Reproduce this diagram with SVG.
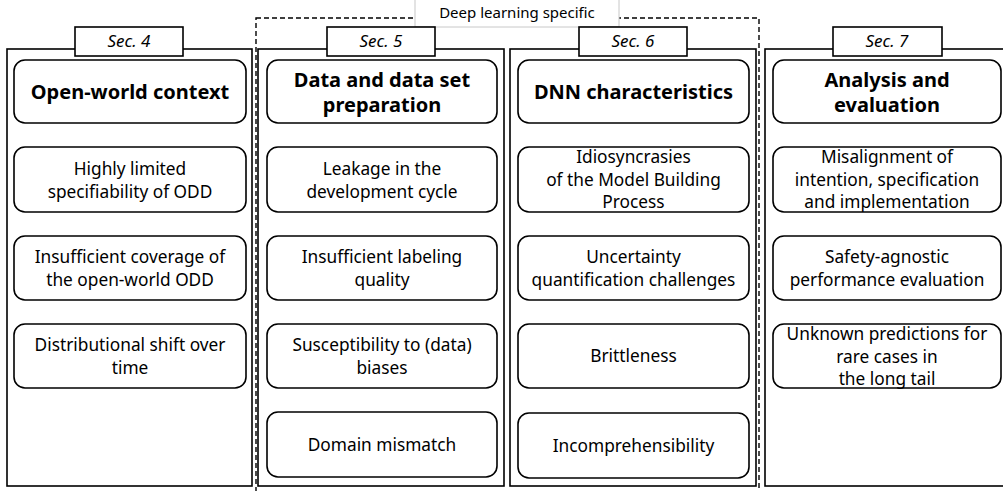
<svg xmlns="http://www.w3.org/2000/svg" width="1003" height="491" viewBox="0 0 1003 491">
<style>
.col{fill:#fff;stroke:#000;stroke-width:1.6}
.node{fill:#fff;stroke:#000;stroke-width:1.6}
.sec{fill:#fff;stroke:#000;stroke-width:1.6}
.t{font-family:"Noto Sans",sans-serif;font-size:17.3px;text-anchor:middle;fill:#000}
.h{font-family:"Noto Sans",sans-serif;font-size:20px;font-weight:bold;text-anchor:middle;fill:#000}
.s{font-family:"Noto Sans",sans-serif;font-size:17px;font-style:italic;text-anchor:middle;fill:#000}
.dl{font-family:"Noto Sans",sans-serif;font-size:15px;text-anchor:middle;fill:#000}
</style>
<rect x="0" y="0" width="1003" height="491" fill="#fff"/>
<g id="deep-learning">
<rect x="256" y="18" width="503" height="490" fill="none" stroke="#000" stroke-width="1.4" stroke-dasharray="5,3"/>
<rect x="415" y="-2" width="204" height="29" fill="#fff" stroke="#c8c8c8" stroke-width="1"/>
<text class="dl" x="517" y="18">Deep learning specific</text>
</g>
<g id="col4">
<rect class="col" x="7" y="49" width="245" height="437"/>
<rect class="sec" x="75" y="27" width="108" height="29"/>
<text class="s" x="129" y="47">Sec. 4</text>
</g>
<g id="col5">
<rect class="col" x="258" y="49" width="246" height="437"/>
<rect class="sec" x="327" y="27" width="108" height="29"/>
<text class="s" x="381" y="47">Sec. 5</text>
</g>
<g id="col6">
<rect class="col" x="510" y="49" width="246" height="437"/>
<rect class="sec" x="579" y="27" width="108" height="29"/>
<text class="s" x="633" y="47">Sec. 6</text>
</g>
<g id="col7">
<rect class="col" x="765" y="49" width="250" height="437"/>
<rect class="sec" x="833" y="27" width="109" height="29"/>
<text class="s" x="887" y="47">Sec. 7</text>
</g>
<g id="connectors"></g>
<g id="n-open-world">
<rect class="node" x="14" y="60" width="232" height="63" rx="11"/>
<text class="h" x="130" y="99">Open-world context</text>
</g>
<g id="n-odd-spec">
<rect class="node" x="14" y="147" width="232" height="65" rx="11"/>
<text class="t" x="130" y="175">Highly limited</text>
<text class="t" x="130" y="198">specifiability of ODD</text>
</g>
<g id="n-odd-coverage">
<rect class="node" x="14" y="236" width="232" height="64" rx="11"/>
<text class="t" x="130" y="263">Insufficient coverage of</text>
<text class="t" x="130" y="286">the open-world ODD</text>
</g>
<g id="n-dist-shift">
<rect class="node" x="14" y="324" width="232" height="64" rx="11"/>
<text class="t" x="130" y="351">Distributional shift over</text>
<text class="t" x="130" y="374">time</text>
</g>
<g id="n-data">
<rect class="node" x="267" y="60" width="230" height="63" rx="11"/>
<text class="h" x="382" y="87">Data and data set</text>
<text class="h" x="382" y="112">preparation</text>
</g>
<g id="n-leakage">
<rect class="node" x="267" y="147" width="230" height="65" rx="11"/>
<text class="t" x="382" y="175">Leakage in the</text>
<text class="t" x="382" y="198">development cycle</text>
</g>
<g id="n-labeling">
<rect class="node" x="267" y="236" width="230" height="64" rx="11"/>
<text class="t" x="382" y="263">Insufficient labeling</text>
<text class="t" x="382" y="286">quality</text>
</g>
<g id="n-biases">
<rect class="node" x="267" y="324" width="230" height="64" rx="11"/>
<text class="t" x="382" y="351">Susceptibility to (data)</text>
<text class="t" x="382" y="374">biases</text>
</g>
<g id="n-domain">
<rect class="node" x="267" y="412" width="230" height="65" rx="11"/>
<text class="t" x="382" y="451">Domain mismatch</text>
</g>
<g id="n-dnn">
<rect class="node" x="518" y="60" width="231" height="63" rx="11"/>
<text class="h" x="633.5" y="99">DNN characteristics</text>
</g>
<g id="n-idio">
<rect class="node" x="518" y="147" width="231" height="65" rx="11"/>
<text class="t" x="633.5" y="163">Idiosyncrasies</text>
<text class="t" x="633.5" y="186">of the Model Building</text>
<text class="t" x="633.5" y="208">Process</text>
</g>
<g id="n-uncertainty">
<rect class="node" x="518" y="236" width="231" height="64" rx="11"/>
<text class="t" x="633.5" y="263">Uncertainty</text>
<text class="t" x="633.5" y="286">quantification challenges</text>
</g>
<g id="n-brittle">
<rect class="node" x="518" y="324" width="231" height="64" rx="11"/>
<text class="t" x="633.5" y="362">Brittleness</text>
</g>
<g id="n-incomp">
<rect class="node" x="518" y="413" width="231" height="65" rx="11"/>
<text class="t" x="633.5" y="452">Incomprehensibility</text>
</g>
<g id="n-analysis">
<rect class="node" x="773" y="60" width="228" height="63" rx="11"/>
<text class="h" x="887" y="87">Analysis and</text>
<text class="h" x="887" y="112">evaluation</text>
</g>
<g id="n-misalign">
<rect class="node" x="773" y="147" width="228" height="65" rx="11"/>
<text class="t" x="887" y="163">Misalignment of</text>
<text class="t" x="887" y="186">intention, specification</text>
<text class="t" x="887" y="208">and implementation</text>
</g>
<g id="n-safety">
<rect class="node" x="773" y="236" width="228" height="64" rx="11"/>
<text class="t" x="887" y="263">Safety-agnostic</text>
<text class="t" x="887" y="286">performance evaluation</text>
</g>
<g id="n-unknown">
<rect class="node" x="773" y="324" width="228" height="64" rx="11"/>
<text class="t" x="887" y="340">Unknown predictions for</text>
<text class="t" x="887" y="363">rare cases in</text>
<text class="t" x="887" y="385">the long tail</text>
</g>
</svg>
